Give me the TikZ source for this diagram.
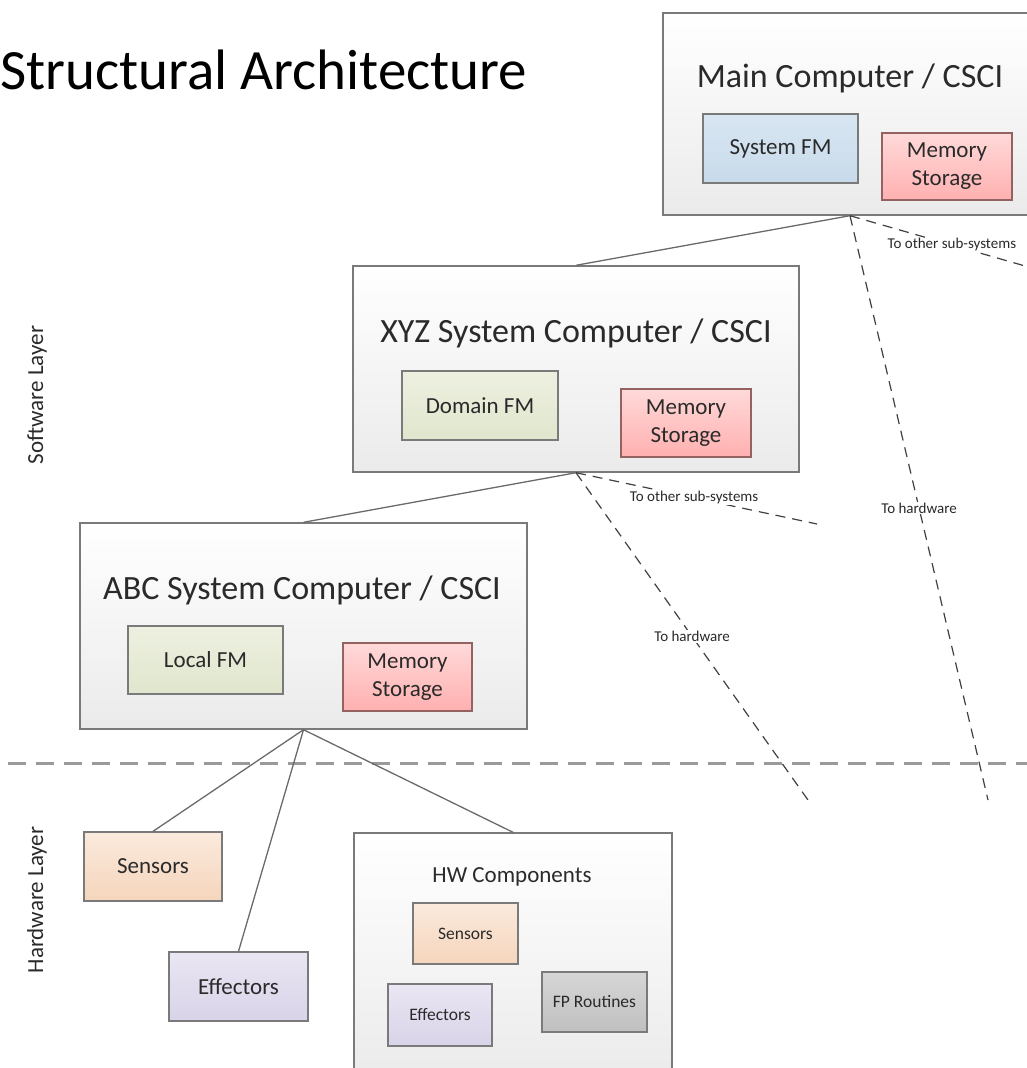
\documentclass[tikz,border=0pt]{standalone}
\usepackage{fontspec}
\setmainfont{Carlito}
\usetikzlibrary{shadows}

\definecolor{edge}{HTML}{7A7A7A}
\definecolor{ink}{HTML}{2A2A2A}
\definecolor{wire}{HTML}{6A6A6A}
\definecolor{layerline}{HTML}{9A9A9A}
\definecolor{bluetop}{HTML}{D8E6F2}\definecolor{bluebot}{HTML}{C8DAEA}
\definecolor{pinktop}{HTML}{FFD9D9}\definecolor{pinkbot}{HTML}{FFB0B0}
\definecolor{greentop}{HTML}{EDF0E0}\definecolor{greenbot}{HTML}{E0E6CD}
\definecolor{peachtop}{HTML}{FBEADD}\definecolor{peachbot}{HTML}{F5D5BC}
\definecolor{lavtop}{HTML}{EAE6F3}\definecolor{lavbot}{HTML}{D9D3E8}
\definecolor{greytop}{HTML}{D6D6D6}\definecolor{greybot}{HTML}{C0C0C0}

\begin{document}
\begin{tikzpicture}[x=1pt,y=-1pt,
  every node/.style={text=ink},
  unit/.style={rectangle, draw=edge, line width=1.4pt, inner sep=0pt,
    top color=white, bottom color=black!8,
    drop shadow={shadow xshift=1.2pt, shadow yshift=-1.2pt, opacity=0.25}},
  part/.style={rectangle, draw=edge, line width=1.3pt, inner sep=0pt, align=center,
    font=\fontsize{23}{28}\selectfont,
    drop shadow={shadow xshift=1pt, shadow yshift=-1pt, opacity=0.25}},
  smallpart/.style={part, font=\fontsize{17.5}{20}\selectfont},
  fmblue/.style={top color=bluetop, bottom color=bluebot},
  fmgreen/.style={top color=greentop, bottom color=greenbot},
  mem/.style={top color=pinktop, bottom color=pinkbot, draw=edge!80!red},
  sensor/.style={top color=peachtop, bottom color=peachbot},
  effector/.style={top color=lavtop, bottom color=lavbot},
  fproutine/.style={top color=greytop, bottom color=greybot},
  unittitle/.style={font=\fontsize{34}{38}\selectfont},
  link/.style={draw=wire, line width=1.3pt},
  extlink/.style={draw=black!75, line width=1.2pt, dash pattern=on 10pt off 7pt},
  extlabel/.style={font=\fontsize{15}{17}\selectfont, fill=white, inner sep=1pt},
  layerlabel/.style={font=\fontsize{23}{26}\selectfont, rotate=90}]

\useasboundingbox (0,0) rectangle (1027,1068);

% heading and layer names
\node[anchor=west, font=\fontsize{57}{62}\selectfont, text=black] (heading) at (-3,70) {Structural Architecture};
\node[layerlabel] (swlayer) at (37,395) {Software Layer};
\node[layerlabel] (hwlayer) at (37,900) {Hardware Layer};

% software / hardware boundary
\draw[layerline, line width=3pt, dash pattern=on 18pt off 10pt] (8,763) coordinate (divl) -- (1030,763) coordinate (divr);

% main computer
\node[unit, minimum width=374pt, minimum height=202pt] (main) at (850,114) {};
\node[unittitle] (maint) at (850,78) {Main Computer / CSCI};
\node[part, fmblue, minimum width=155pt, minimum height=69pt] (sysfm) at (780.5,148.5) {System FM};
\node[part, mem, minimum width=130pt, minimum height=67pt] (mema) at (947,166.5) {Memory\\Storage};

% XYZ system computer
\node[unit, minimum width=446pt, minimum height=206pt] (xyz) at (576,369) {};
\node[unittitle] (xyzt) at (576,333) {XYZ System Computer / CSCI};
\node[part, fmgreen, minimum width=156pt, minimum height=69pt] (domfm) at (480,405.5) {Domain FM};
\node[part, mem, minimum width=130pt, minimum height=68pt] (memb) at (686,423) {Memory\\Storage};

% ABC system computer
\node[unit, minimum width=447pt, minimum height=206pt] (abc) at (303.5,626) {};
\node[unittitle] (abct) at (302,590) {ABC System Computer / CSCI};
\node[part, fmgreen, minimum width=155pt, minimum height=68pt] (locfm) at (205.5,660) {Local FM};
\node[part, mem, minimum width=129pt, minimum height=68pt] (memc) at (407.5,677) {Memory\\Storage};

% hardware layer
\node[part, sensor, minimum width=138pt, minimum height=69pt] (sens) at (153,866.5) {Sensors};
\node[part, effector, minimum width=139pt, minimum height=69pt] (eff) at (238.5,986.5) {Effectors};
\node[unit, minimum width=318pt, minimum height=250pt] (hw) at (513,958) {};
\node[font=\fontsize{23}{26}\selectfont] (hwt) at (512,877) {HW Components};
\node[smallpart, sensor, minimum width=105pt, minimum height=61pt] (hwsens) at (465.5,933.5) {Sensors};
\node[smallpart, effector, minimum width=104pt, minimum height=62pt] (hweff) at (440,1015) {Effectors};
\node[smallpart, fproutine, minimum width=105pt, minimum height=60pt] (hwfp) at (594.5,1002) {FP Routines};

% hierarchy links
\draw[link] (main.south) -- (xyz.north);
\draw[link] (xyz.south) -- (abc.north);
\draw[link] (abc.south) -- (sens.north);
\draw[link] (abc.south) -- (eff.north);
\draw[link] (abc.south) -- (hw.north);

% links leaving the picture
\coordinate (mainhw) at (988,800);
\coordinate (mainsub) at (1032,268);
\coordinate (xyzhw) at (808,800);
\coordinate (xyzsub) at (817,524);
\draw[extlink] (main.south) -- node[extlabel, pos=0.5] (mainhwl) {To hardware} (mainhw);
\draw[extlink] (main.south) -- node[extlabel, pos=0.56] (mainsubl) {To other sub-systems} (mainsub);
\draw[extlink] (xyz.south) -- node[extlabel, pos=0.5] (xyzhwl) {To hardware} (xyzhw);
\draw[extlink] (xyz.south) -- node[extlabel, pos=0.49] (xyzsubl) {To other sub-systems} (xyzsub);

\end{tikzpicture}
\end{document}
